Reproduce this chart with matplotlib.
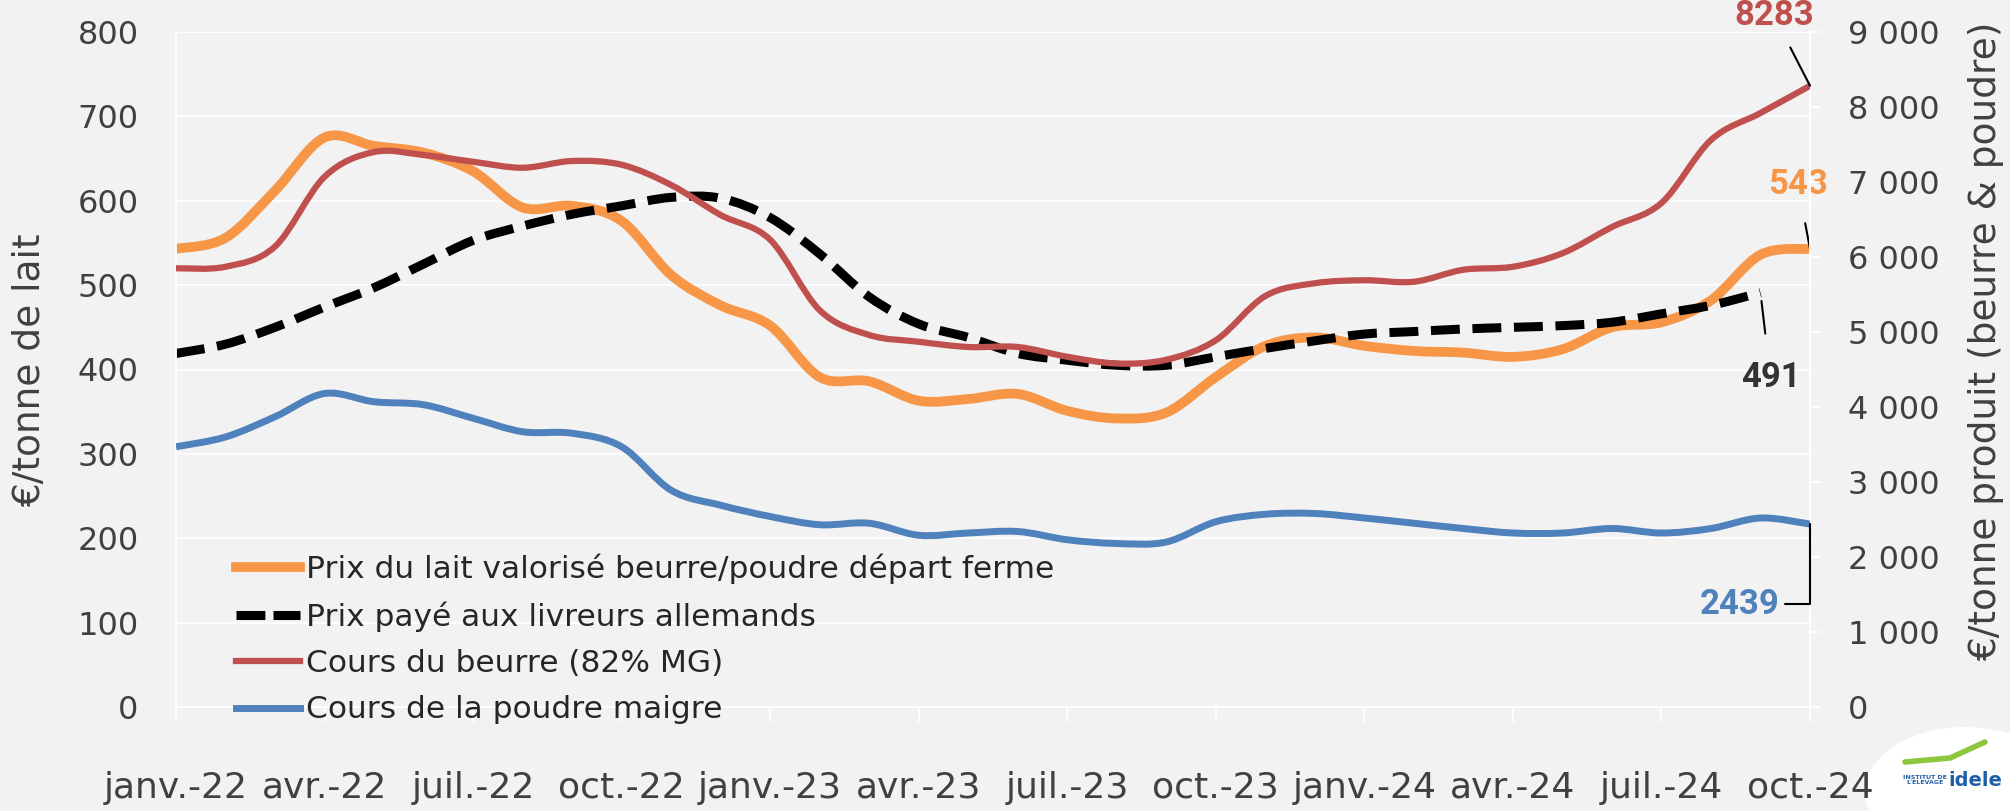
import numpy as np
import matplotlib.pyplot as plt
from matplotlib.path import Path
from matplotlib.patches import PathPatch, Ellipse
from matplotlib.lines import Line2D
from matplotlib.ticker import FuncFormatter, MultipleLocator

plt.rcParams['font.family'] = ['DejaVu Sans']

# données mensuelles janv.-22 -> oct.-24
mois_labels = ["janv.-22", "avr.-22", "juil.-22", "oct.-22", "janv.-23", "avr.-23",
               "juil.-23", "oct.-23", "janv.-24", "avr.-24", "juil.-24", "oct.-24"]
# €/tonne de lait (axe gauche)
prix_lait_bp = [543, 556, 612, 675, 665, 657, 635, 592, 594, 576, 512, 476,
                452, 391, 386, 363, 365, 371, 351, 342, 349, 391, 428, 438,
                428, 422, 420, 415, 424, 450, 456, 482, 536, 543]
prix_allemand = [419, 430, 450, 474, 497, 525, 553, 570, 584, 594, 604, 603,
                 580, 537, 486, 454, 438, 419, 411, 405, 405, 415, 425, 434,
                 442, 445, 448, 450, 452, 456, 466, 476, 491]
# €/tonne produit (axe droit)
cours_beurre = [5850, 5870, 6140, 7070, 7400, 7360, 7270, 7190, 7280, 7230, 6960, 6560,
                6230, 5290, 4960, 4870, 4800, 4800, 4670, 4580, 4630, 4890, 5480, 5650,
                5690, 5670, 5830, 5870, 6050, 6400, 6720, 7560, 7920, 8283]
cours_poudre = [3470, 3600, 3870, 4180, 4070, 4030, 3850, 3670, 3650, 3470, 2890, 2690,
                2540, 2430, 2450, 2290, 2320, 2340, 2230, 2180, 2200, 2470, 2570, 2580,
                2520, 2450, 2380, 2320, 2320, 2380, 2320, 2380, 2520, 2439]

ORANGE = '#F79646'
ROUGE = '#C0504D'
BLEU = '#4F81BD'
NOIR = '#000000'
FOND = '#F2F2F2'
TXT = '#404040'


def courbe_lisse(ax, y, **kw):
    # ligne lissée façon Excel (bezier)
    pts = np.column_stack([np.arange(len(y)), np.asarray(y, float)])
    n = len(pts)
    verts = [pts[0]]
    codes = [Path.MOVETO]
    for i in range(n - 1):
        p0 = pts[max(i - 1, 0)]
        p1 = pts[i]
        p2 = pts[i + 1]
        p3 = pts[min(i + 2, n - 1)]
        verts += [p1 + (p2 - p0) / 6, p2 - (p3 - p1) / 6, p2]
        codes += [Path.CURVE4] * 3
    patch = PathPatch(Path(verts, codes), fill=False, **kw)
    ax.add_patch(patch)
    return patch


fig = plt.figure(figsize=(20.1, 8.11), dpi=100)
fig.patch.set_facecolor(FOND)
ax = fig.add_axes([176 / 2010, 1 - 707 / 811, (1810 - 176) / 2010, (707 - 32) / 811])
ax.set_facecolor(FOND)
ax2 = ax.twinx()
ax2.patch.set_visible(False)

ax.set_xlim(0, 33)
ax.set_ylim(0, 800)
ax2.set_ylim(0, 9000)
ax.yaxis.set_major_locator(MultipleLocator(100))
ax2.yaxis.set_major_locator(MultipleLocator(1000))
ax2.yaxis.set_major_formatter(FuncFormatter(lambda v, p: f"{int(v):,}".replace(",", " ")))
ax.set_xticks(range(0, 34, 3))
ax.set_xticklabels(mois_labels)

ax.grid(axis='y', color='white', lw=1.3)
ax.set_axisbelow(True)
for a in (ax, ax2):
    for s in a.spines.values():
        s.set_color('white')
        s.set_linewidth(1.3)
    a.spines['top'].set_visible(False)

ax.tick_params(axis='y', length=0, pad=27, labelsize=23, labelcolor=TXT)
ax.tick_params(axis='x', length=11, width=1.3, color='white', pad=35, labelsize=26, labelcolor=TXT)
ax2.tick_params(axis='y', length=7, width=1.3, color='white', pad=20, labelsize=23, labelcolor=TXT)

p1 = courbe_lisse(ax, prix_lait_bp, color=ORANGE, lw=7, zorder=3)
p2 = courbe_lisse(ax, prix_allemand, color=NOIR, lw=6.5, linestyle=(0, (3.2, 1.4)), zorder=4)
p3 = courbe_lisse(ax2, cours_beurre, color=ROUGE, lw=4.5, zorder=3)
p4 = courbe_lisse(ax2, cours_poudre, color=BLEU, lw=5, zorder=3)
for p in (p1, p2, p3, p4):
    p.set_capstyle('butt')
    p.set_joinstyle('round')

fig.text(30 / 2010, 1 - 370 / 811, "€/tonne de lait", rotation=90, ha='center', va='center',
         fontsize=27, color=TXT)
fig.text(1986 / 2010, 1 - 341 / 811, "€/tonne produit (beurre & poudre)", rotation=90,
         ha='center', va='center', fontsize=27, color=TXT)

handles = [Line2D([], [], color=ORANGE, lw=7),
           Line2D([], [], color=NOIR, lw=6.5, linestyle=(0, (3.2, 0.9))),
           Line2D([], [], color=ROUGE, lw=4.5),
           Line2D([], [], color=BLEU, lw=5)]
labels = ["Prix du lait valorisé beurre/poudre départ ferme",
          "Prix payé aux livreurs allemands",
          "Cours du beurre (82% MG)",
          "Cours de la poudre maigre"]
fig.legend(handles, labels, loc='upper left', bbox_to_anchor=(236 / 2010, 1 - 553 / 811),
           frameon=False, fontsize=22.5, handlelength=2.05, handletextpad=0.2,
           labelspacing=0.56, borderpad=0, borderaxespad=0, labelcolor='#262626')

lbl = dict(fontsize=25, fontweight='bold', family='Roboto')
ax2.annotate("8283", xy=(33, cours_beurre[-1]), xytext=(-36, 70), textcoords='offset pixels',
             ha='center', va='center', color=ROUGE, annotation_clip=False,
             arrowprops=dict(arrowstyle='-', color='black', lw=1.5, shrinkA=10, shrinkB=0), **lbl)
ax.annotate("543", xy=(33, prix_lait_bp[-1]), xytext=(-12, 64), textcoords='offset pixels',
            ha='center', va='center', color=ORANGE, annotation_clip=False,
            arrowprops=dict(arrowstyle='-', color='black', lw=1.5, shrinkA=14, shrinkB=0), **lbl)
ax.annotate("491", xy=(32, prix_allemand[-1]), xytext=(10, -85), textcoords='offset pixels',
            ha='center', va='center', color='#333333', annotation_clip=False,
            arrowprops=dict(arrowstyle='-', color='black', lw=1.5, shrinkA=18, shrinkB=6), **lbl)
ax2.annotate("2439", xy=(33, cours_poudre[-1]), xytext=(-70, -80), textcoords='offset pixels',
             ha='center', va='center', color=BLEU, annotation_clip=False,
             arrowprops=dict(arrowstyle='-', color='black', lw=1.5, shrinkA=2, shrinkB=0,
                             relpos=(1, 0.5),
                             connectionstyle="angle,angleA=0,angleB=90,rad=0"), **lbl)

# logo idele
fig.patches.append(Ellipse((1965 / 2010, 1 - 792 / 811), 200 / 2010, 130 / 811,
                           transform=fig.transFigure, facecolor='white', edgecolor='none',
                           zorder=-1))
fig.lines.append(Line2D([1905 / 2010, 1950 / 2010, 1985 / 2010],
                        [1 - 762 / 811, 1 - 758 / 811, 1 - 742 / 811],
                        transform=fig.transFigure, color='#8DC63F', lw=4,
                        solid_capstyle='round'))
fig.text(1925 / 2010, 1 - 780 / 811, "INSTITUT DE\nL'ELEVAGE", fontsize=4.5, fontweight='bold',
         color='#1F5FA8', ha='center', va='center', linespacing=1.0)
fig.text(1975 / 2010, 1 - 780 / 811, "idele", fontsize=14, fontweight='bold',
         color='#1F5FA8', ha='center', va='center')

fig.savefig("out.png", dpi=100, facecolor=FOND)
